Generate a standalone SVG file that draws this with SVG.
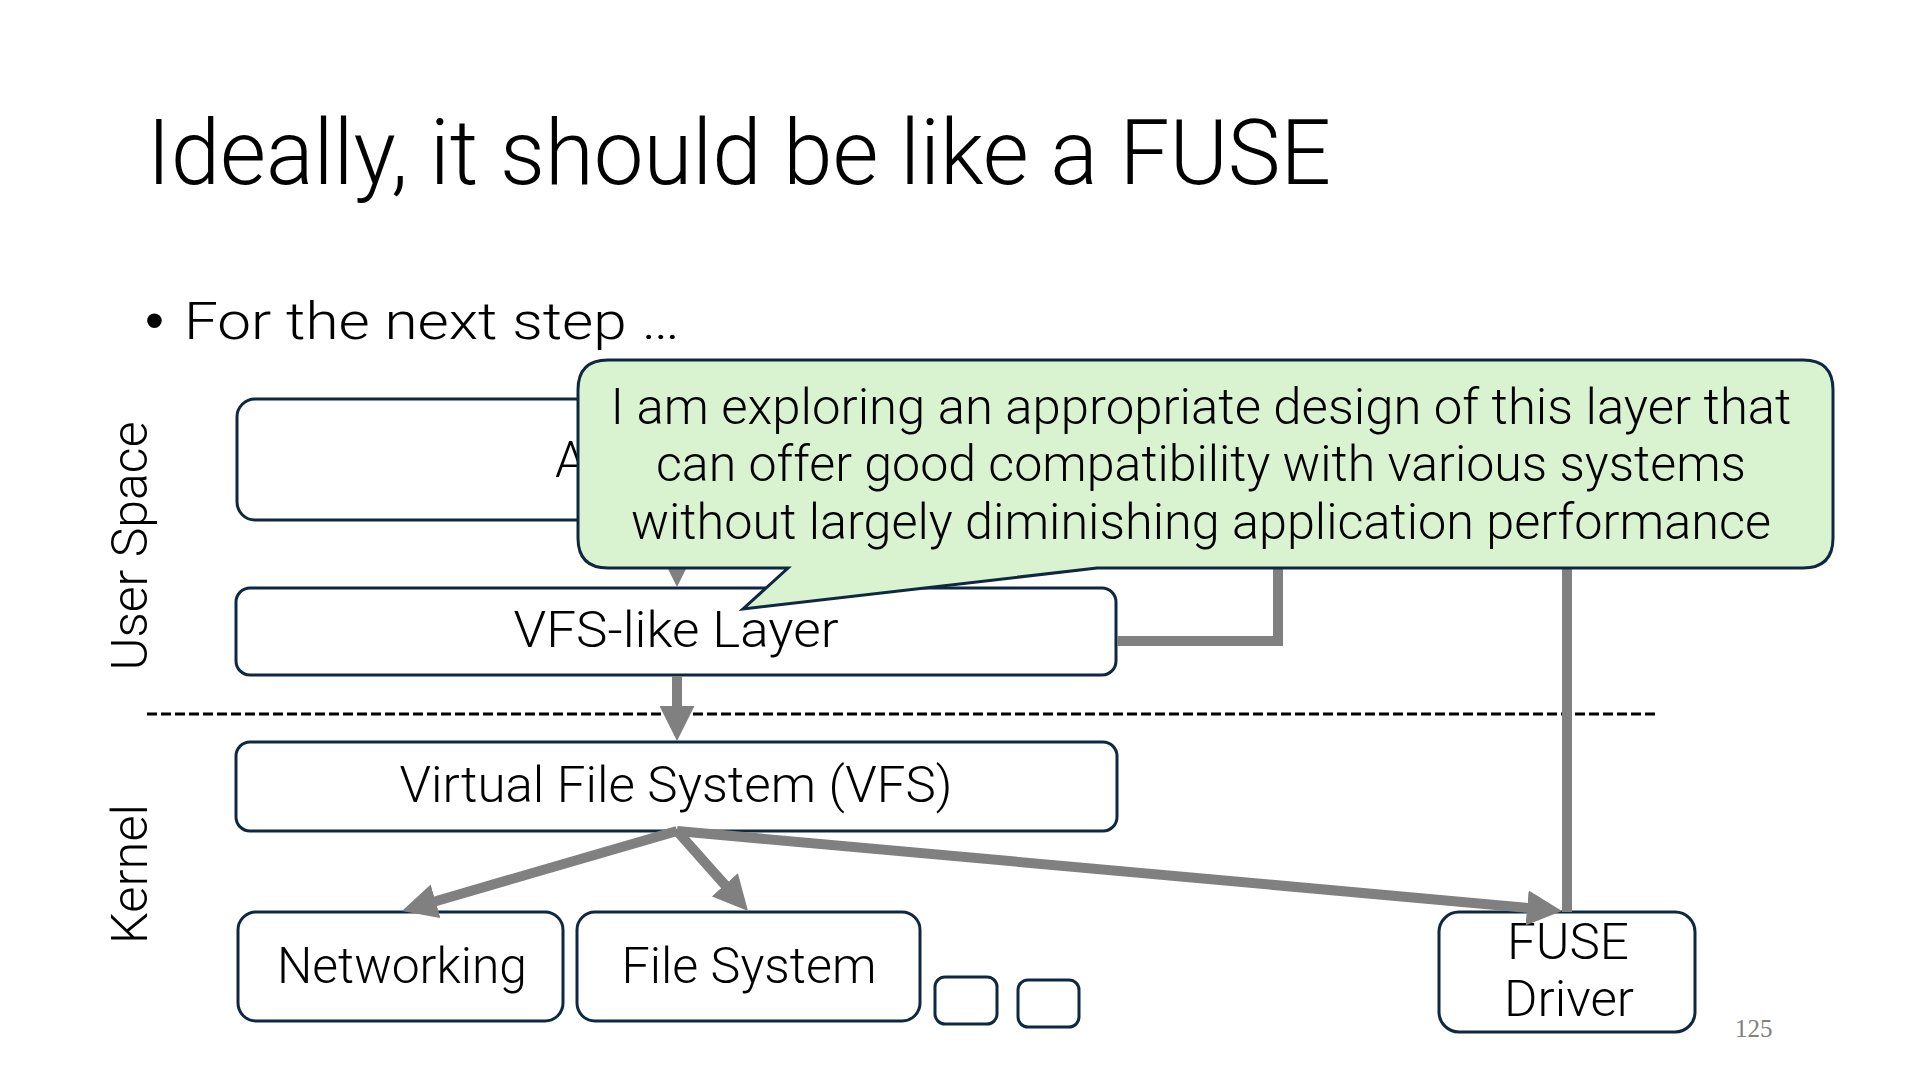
<svg xmlns="http://www.w3.org/2000/svg" width="1920" height="1080" viewBox="0 0 1920 1080">
<defs>
<style>
.t{font-family:Roboto,"Noto Sans","Liberation Sans",sans-serif;fill:#000}
.title{font-size:90px;font-weight:300}
.lbl{font-size:50px;font-weight:300;text-anchor:middle}
.box{fill:#fff;stroke:#0e2841;stroke-width:3}
.conn{fill:none;stroke:#808080;stroke-width:10}
.call{fill:#d9f2d0;stroke:#0e2841;stroke-width:3;stroke-linejoin:miter}
</style>
<marker id="ah" viewBox="0 0 10 10" refX="1" refY="5" markerWidth="3.5" markerHeight="3.5" orient="auto" markerUnits="strokeWidth">
<path d="M0,0 L10,5 L0,10 z" fill="#808080"/>
</marker>
</defs>
<rect width="1920" height="1080" fill="#fff"/>
<text class="t title" x="147" y="184" textLength="1184" lengthAdjust="spacingAndGlyphs">Ideally, it should be like a FUSE</text>
<text x="145" y="339" font-family="Liberation Sans,sans-serif" font-size="54" fill="#000">•</text>
<text class="t" x="184" y="339" font-size="52" font-weight="300" textLength="496" lengthAdjust="spacingAndGlyphs">For the next step …</text>
<text class="t lbl" transform="translate(147,546) rotate(-90)" textLength="249" lengthAdjust="spacingAndGlyphs">User Space</text>
<text class="t lbl" transform="translate(147,874) rotate(-90)" textLength="140" lengthAdjust="spacingAndGlyphs">Kernel</text>
<line x1="147" y1="714" x2="1657" y2="714" stroke="#000" stroke-width="3" stroke-dasharray="10 4"/>
<g id="app"><rect class="box" x="237" y="399" width="879" height="121" rx="18"/><text class="t" x="555" y="477" font-size="50" font-weight="300">A</text></g>
<g id="vfslike"><rect class="box" x="236" y="588" width="880" height="87" rx="14"/><text class="t lbl" x="676" y="647" textLength="325" lengthAdjust="spacingAndGlyphs">VFS-like Layer</text></g>
<g id="vfs"><rect class="box" x="236" y="742" width="881" height="89" rx="14"/><text class="t lbl" x="676" y="802" textLength="553" lengthAdjust="spacingAndGlyphs">Virtual File System (VFS)</text></g>
<g id="net"><rect class="box" x="238" y="912" width="325" height="109" rx="18"/><text class="t lbl" x="402" y="983" textLength="250" lengthAdjust="spacingAndGlyphs">Networking</text></g>
<g id="fs"><rect class="box" x="577" y="912" width="343" height="109" rx="18"/><text class="t lbl" x="749" y="983" textLength="255" lengthAdjust="spacingAndGlyphs">File System</text></g>
<g id="small1"><rect class="box" x="935" y="977" width="62" height="47" rx="10"/></g>
<g id="small2"><rect class="box" x="1018" y="980" width="61" height="47" rx="10"/></g>
<g id="fuse"><rect class="box" x="1439" y="912" width="256" height="120" rx="20"/><text class="t lbl" x="1568" y="959" font-size="48" textLength="122" lengthAdjust="spacingAndGlyphs">FUSE</text><text class="t lbl" x="1569" y="1016" font-size="48" textLength="130" lengthAdjust="spacingAndGlyphs">Driver</text></g>
<g id="connectors">
<line class="conn" x1="677" y1="521" x2="677" y2="555.5" marker-end="url(#ah)"/>
<line class="conn" x1="677" y1="676" x2="677" y2="709.5" marker-end="url(#ah)"/>
<line class="conn" x1="677" y1="831" x2="432.2" y2="902.2" marker-end="url(#ah)"/>
<line class="conn" x1="677" y1="831" x2="727.1" y2="887.4" marker-end="url(#ah)"/>
<line class="conn" x1="677" y1="831" x2="1530.6" y2="908.2" marker-end="url(#ah)"/>
<polyline class="conn" points="1117,641 1278,641 1278,566"/>
<line class="conn" x1="1567" y1="566" x2="1567" y2="912"/>
</g>
<g id="callout">
<path class="call" d="M608,360 H1803 Q1833,360 1833,390 V538 Q1833,568 1803,568 H1097 L743,609 L788,568 H608 Q578,568 578,538 V390 Q578,360 608,360 Z"/>
<text class="t lbl" x="1201" y="424" font-size="48" textLength="1181" lengthAdjust="spacingAndGlyphs">I am exploring an appropriate design of this layer that</text>
<text class="t lbl" x="1201" y="481" font-size="48" textLength="1090" lengthAdjust="spacingAndGlyphs">can offer good compatibility with various systems</text>
<text class="t lbl" x="1201" y="539" font-size="48" textLength="1140" lengthAdjust="spacingAndGlyphs">without largely diminishing application performance</text>
</g>
<text x="1735" y="1037" font-family="Liberation Serif,serif" font-size="25" fill="#808080">125</text>
</svg>
